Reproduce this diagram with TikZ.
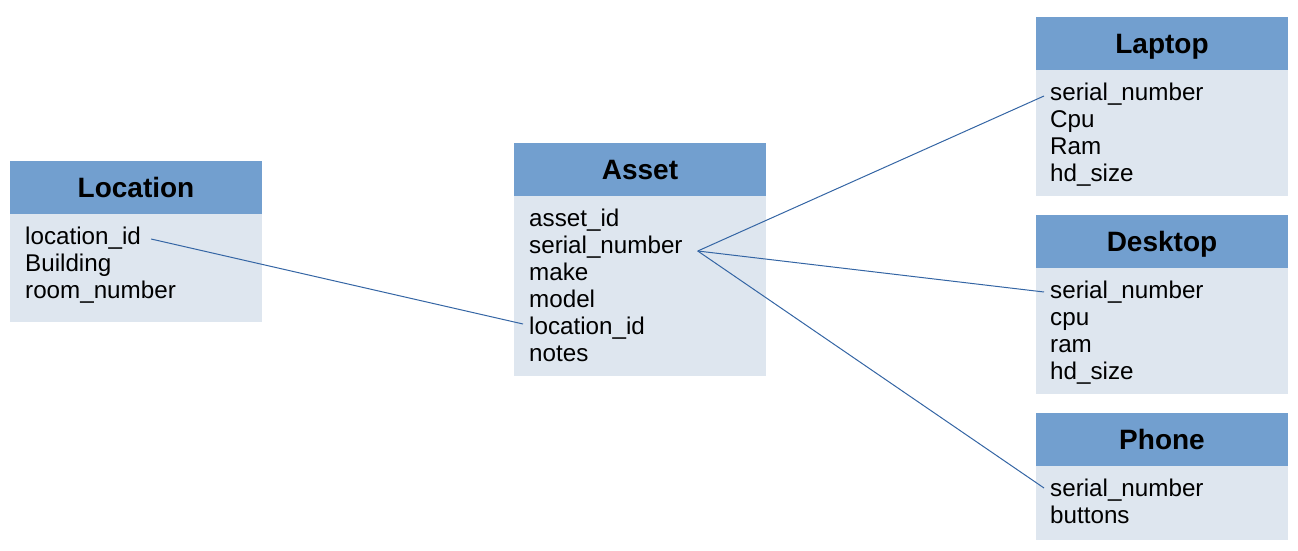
\documentclass[tikz,border=0pt]{standalone}
\usepackage{fontspec}
\setmainfont{Liberation Sans}
\usetikzlibrary{positioning}
\definecolor{headblue}{HTML}{729FCF}
\definecolor{bodyblue}{HTML}{DEE6EF}
\definecolor{linkblue}{HTML}{3465A4}
\tikzset{
	header/.style = {fill=headblue, minimum width=252pt, minimum height=53pt, inner sep=0pt,
		text height=20pt, text depth=0pt, font=\fontsize{28}{31}\selectfont\bfseries},
	tablebody/.style = {fill=bodyblue, minimum width=252pt, inner sep=0pt, anchor=north},
	field/.style = {anchor=base west, inner xsep=6pt, inner ysep=0pt,
		text height=17pt, text depth=5pt, font=\fontsize{24.2}{28}\selectfont},
	link/.style = {linkblue, line width=1pt}
}

\begin{document}
\begin{tikzpicture}[x=1pt, y=-1pt]
		\useasboundingbox (0, 0) rectangle (1298, 551);
		% tables
		\node[header] (location) at (136, 187.5) {Location};
		\node[tablebody, minimum height=108pt] (locbody) at (location.south) {};
		\node[header] (asset) at (640, 169.5) {Asset};
		\node[tablebody, minimum height=180pt] (astbody) at (asset.south) {};
		\node[header] (laptop) at (1162, 43.5) {Laptop};
		\node[tablebody, minimum height=126pt] (lapbody) at (laptop.south) {};
		\node[header] (desktop) at (1162, 241.5) {Desktop};
		\node[tablebody, minimum height=126pt] (deskbody) at (desktop.south) {};
		\node[header] (phone) at (1162, 439.5) {Phone};
		\node[tablebody, minimum height=74pt] (phbody) at (phone.south) {};
		% fields
		\foreach \f [count=\i from 0] in {location\_id, Building, room\_number}
			\node[field] (loc-\i) at (19, {244 + 27*\i}) {\f};
		\foreach \f [count=\i from 0] in {asset\_id, serial\_number, make, model, location\_id, notes}
			\node[field] (ast-\i) at (523, {226 + 27*\i}) {\f};
		\foreach \f [count=\i from 0] in {serial\_number, Cpu, Ram, hd\_size}
			\node[field] (lap-\i) at (1044, {100 + 27*\i}) {\f};
		\foreach \f [count=\i from 0] in {serial\_number, cpu, ram, hd\_size}
			\node[field] (desk-\i) at (1044, {298 + 27*\i}) {\f};
		\foreach \f [count=\i from 0] in {serial\_number, buttons}
			\node[field] (ph-\i) at (1044, {496 + 27*\i}) {\f};
		% links
		\draw[link] ([xshift=4pt, yshift=-1pt]loc-0.east) -- ([yshift=4pt]ast-4.west);
		\coordinate (hub) at ([xshift=9pt, yshift=-4pt]ast-1.east);
		\draw[link] (hub) -- ([yshift=-2pt]lap-0.west);
		\draw[link] (hub) -- (desk-0.west);
		\draw[link] (hub) -- ([yshift=2pt]ph-0.west);
	\end{tikzpicture}
\end{document}
